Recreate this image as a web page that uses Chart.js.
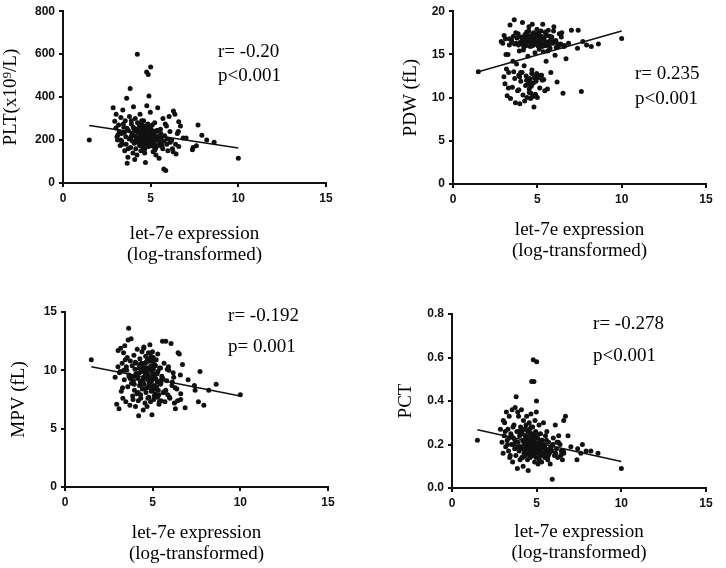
<!DOCTYPE html>
<html>
<head>
<meta charset="utf-8">
<script src="https://cdn.jsdelivr.net/npm/chart.js@4/dist/chart.umd.min.js"></script>
<style>
  body { margin: 0; background: #fff; }
  .panel { position: absolute; }
</style>
</head>
<body>
<canvas id="plt" class="panel" width="363" height="284" style="left:0;top:0"></canvas>
<canvas id="pdw" class="panel" width="363" height="284" style="left:363px;top:0"></canvas>
<canvas id="mpv" class="panel" width="363" height="284" style="left:0;top:284px"></canvas>
<canvas id="pct" class="panel" width="363" height="284" style="left:363px;top:284px"></canvas>
<script>
// let-7e expression (log-transformed), shared x for every panel
const expr = [
  1.5, 10.0, 8.62, 8.2, 7.92, 7.7, 7.61, 7.42, 7.38, 7.02,
  2.86, 2.95, 3.02, 3.08, 3.11, 3.17, 3.21, 3.26, 3.3, 3.34,
  3.38, 3.41, 3.47, 3.52, 3.55, 3.58, 3.63, 3.66, 3.7, 3.73,
  3.77, 3.79, 3.83, 3.86, 3.9, 3.93, 3.96, 3.99, 4.02, 4.05,
  4.07, 4.1, 4.12, 4.15, 4.18, 4.2, 4.22, 4.25, 4.27, 4.3,
  4.32, 4.34, 4.37, 4.39, 4.41, 4.44, 4.46, 4.48, 4.5, 4.52,
  4.54, 4.56, 4.58, 4.6, 4.62, 4.64, 4.66, 4.68, 4.7, 4.72,
  4.74, 4.76, 4.78, 4.8, 4.82, 4.84, 4.86, 4.88, 4.9, 4.92,
  4.94, 4.96, 4.98, 5.0, 5.03, 5.06, 5.08, 5.11, 5.14, 5.17,
  5.2, 5.23, 5.26, 5.29, 5.32, 5.36, 5.4, 5.44, 5.48, 5.52,
  5.56, 5.6, 5.65, 5.7, 5.75, 5.8, 5.86, 5.92, 5.98, 6.05,
  6.1, 6.17, 6.24, 6.3, 6.38, 6.45, 6.52, 6.6, 6.7, 6.85,
  3.03, 3.14, 3.28, 3.44, 3.6, 3.72, 3.88, 4.01, 4.09, 4.17,
  4.24, 4.31, 4.36, 4.43, 4.49, 4.55, 4.61, 4.67, 4.73, 4.79,
  4.85, 4.91, 4.97, 5.02, 5.09, 5.16, 5.22, 5.3, 5.38, 5.47,
  5.58, 5.69, 5.83, 5.96, 6.12, 6.28, 6.42, 6.58, 3.5, 3.9,
  4.1, 4.28, 4.4, 4.52, 4.63, 4.7, 4.77, 4.83, 4.93, 5.04,
  5.12, 5.25, 5.35, 5.5, 5.62, 5.9, 6.2, 6.6, 4.45, 4.65,
  4.58, 4.75, 4.87, 4.99, 5.07, 5.18, 5.28, 4.35, 4.55, 4.81,
  3.35, 3.65, 3.95, 4.15, 4.42, 4.62, 4.95, 5.15, 5.45, 5.75
];

const pltValues = [
  200, 115, 190, 200, 222, 270, 173, 165, 155, 210,
  350, 287, 256, 215, 200, 270, 240, 175, 305, 230,
  180, 340, 260, 150, 290, 215, 395, 92, 120, 245,
  205, 310, 440, 165, 275, 230, 195, 140, 355, 250,
  185, 220, 300, 160, 245, 210, 130, 280, 190, 235,
  205, 260, 175, 320, 225, 150, 195, 240, 270, 185,
  215, 250, 165, 290, 205, 230, 140, 265, 95, 200,
  245, 180, 360, 220, 195, 275, 505, 170, 405, 230,
  210, 190, 330, 540, 250, 175, 215, 200, 145, 235,
  190, 280, 205, 165, 240, 200, 350, 215, 115, 185,
  250, 205, 170, 300, 65, 220, 58, 180, 150, 310,
  240, 195, 160, 335, 320, 135, 230, 285, 265, 210,
  320, 225, 200, 275, 180, 160, 215, 260, 110, 200,
  600, 240, 215, 180, 290, 205, 225, 160, 255, 190,
  215, 180, 240, 195, 270, 170, 220, 130, 245, 200,
  230, 160, 275, 205, 190, 145, 180, 240, 235, 290,
  250, 205, 230, 175, 245, 210, 517, 195, 260, 180,
  205, 155, 245, 220, 180, 265, 200, 170, 235, 215,
  200, 260, 185, 215, 190, 240, 175, 270, 225, 205,
  195, 255, 220, 250, 200, 185, 230, 210, 175, 195
];

const pdwValues = [
  13.0, 16.85, 16.2, 15.9, 16.1, 16.5, 10.7, 17.8, 15.7, 17.8,
  16.5, 16.3, 12.4, 11.6, 16.8, 13.3, 10.2, 15.0, 12.9, 16.1,
  18.4, 9.9, 16.6, 11.2, 14.2, 17.1, 19.0, 12.2, 9.4, 16.3,
  13.9, 16.9, 10.8, 17.4, 12.6, 15.4, 9.3, 16.4, 11.9, 17.0,
  16.2, 12.9, 18.7, 10.3, 16.7, 15.8, 13.7, 9.6, 17.3, 11.4,
  16.0, 12.5, 17.6, 10.0, 16.4, 14.8, 11.8, 16.9, 18.2, 10.6,
  16.6, 12.1, 15.9, 9.9, 17.2, 11.3, 16.3, 13.2, 18.5, 10.1,
  16.1, 11.7, 17.5, 8.9, 16.8, 12.4, 15.2, 10.4, 17.0, 11.9,
  16.5, 12.8, 17.9, 10.0, 16.0, 12.3, 17.3, 15.6, 11.1, 16.7,
  12.6, 17.1, 16.2, 12.0, 18.5, 15.3, 16.8, 10.8, 17.6, 14.2,
  16.4, 11.0, 17.8, 16.0, 15.7, 12.9, 17.0, 16.3, 18.2, 14.9,
  16.6, 11.8, 15.9, 17.4, 16.2, 17.5, 10.5, 16.0, 14.5, 16.3,
  17.2, 15.0, 11.1, 16.7, 13.0, 17.5, 16.1, 12.9, 16.9, 15.5,
  16.3, 17.0, 12.0, 16.6, 17.7, 11.5, 16.2, 12.8, 17.1, 16.5,
  16.9, 10.2, 16.4, 17.3, 12.5, 16.1, 17.7, 16.8, 12.1, 16.0,
  17.2, 16.5, 16.8, 17.7, 15.8, 16.1, 17.0, 15.9, 16.4, 10.9,
  16.9, 16.3, 17.2, 11.0, 16.6, 16.0, 17.4, 12.3, 16.2, 17.0,
  16.7, 12.6, 16.1, 17.3, 15.4, 16.6, 16.2, 16.0, 16.8, 11.6,
  17.0, 16.4, 10.3, 16.9, 17.5, 16.2, 15.9, 16.7, 12.2, 16.3,
  16.8, 16.2, 12.4, 16.6, 16.9, 10.5, 17.2, 16.5, 16.4, 17.1
];

const mpvValues = [
  10.9, 7.9, 8.8, 8.3, 7.0, 9.9, 7.3, 8.3, 8.7, 9.2,
  9.4, 7.1, 10.3, 6.7, 9.8, 11.9, 8.2, 10.6, 7.6, 11.5,
  9.2, 12.1, 7.3, 10.0, 11.1, 8.6, 13.6, 9.6, 7.0, 10.8,
  12.7, 8.9, 10.4, 7.8, 9.5, 11.3, 8.3, 10.1, 6.9, 9.7,
  10.6, 8.0, 11.8, 9.3, 7.4, 6.1, 10.2, 8.7, 11.0, 9.0,
  7.6, 10.5, 9.1, 11.6, 8.4, 10.0, 6.6, 9.4, 12.0, 8.8,
  10.3, 7.2, 9.8, 11.2, 8.1, 10.7, 9.5, 6.9, 10.9, 8.5,
  9.6, 11.5, 7.7, 10.1, 8.9, 12.2, 9.2, 7.3, 10.4, 8.2,
  9.9, 6.2, 10.8, 8.6, 11.1, 7.5, 9.3, 10.5, 8.0, 9.7,
  10.9, 7.8, 9.0, 11.4, 8.3, 7.1, 10.2, 8.8, 7.4, 9.5,
  12.5, 8.1, 10.6, 7.3, 12.5, 9.1, 7.9, 10.0, 7.6, 12.3,
  8.7, 9.8, 7.2, 6.7, 8.4, 11.5, 11.4, 7.5, 10.5, 6.8,
  11.7, 9.9, 8.5, 10.9, 12.6, 9.3, 7.5, 10.7, 9.6, 8.1,
  9.8, 7.9, 10.6, 9.1, 11.9, 8.4, 10.2, 9.4, 7.6, 10.8,
  9.0, 11.2, 8.3, 9.6, 7.8, 10.4, 8.6, 9.9, 7.3, 8.9,
  9.3, 8.2, 10.1, 7.7, 9.0, 8.5, 7.4, 9.6, 10.3, 9.1,
  9.5, 10.4, 8.8, 9.9, 10.7, 9.2, 8.6, 11.0, 9.4, 10.1,
  8.4, 9.7, 7.9, 9.2, 8.1, 10.3, 9.4, 8.0, 10.5, 9.8,
  9.6, 10.2, 9.0, 11.6, 8.7, 9.3, 7.7, 9.9, 10.6, 9.4,
  10.0, 9.5, 8.8, 9.7, 10.3, 9.9, 9.1, 8.6, 10.2, 8.3
];

const pctValues = [
  0.22, 0.09, 0.16, 0.17, 0.17, 0.20, 0.16, 0.18, 0.13, 0.19,
  0.27, 0.21, 0.16, 0.24, 0.30, 0.19, 0.35, 0.22, 0.27, 0.17,
  0.33, 0.14, 0.25, 0.20, 0.36, 0.12, 0.23, 0.29, 0.18, 0.37,
  0.15, 0.42, 0.26, 0.09, 0.21, 0.33, 0.17, 0.24, 0.13, 0.28,
  0.19, 0.36, 0.14, 0.25, 0.22, 0.10, 0.31, 0.16, 0.27, 0.20,
  0.24, 0.15, 0.29, 0.18, 0.33, 0.21, 0.13, 0.26, 0.08, 0.19,
  0.23, 0.30, 0.16, 0.27, 0.14, 0.21, 0.34, 0.18, 0.49, 0.25,
  0.17, 0.28, 0.22, 0.59, 0.15, 0.49, 0.24, 0.12, 0.31, 0.20,
  0.26, 0.14, 0.35, 0.58, 0.19, 0.23, 0.11, 0.17, 0.29, 0.21,
  0.15, 0.25, 0.18, 0.12, 0.22, 0.16, 0.30, 0.20, 0.14, 0.24,
  0.17, 0.26, 0.13, 0.21, 0.16, 0.11, 0.19, 0.04, 0.23, 0.15,
  0.29, 0.18, 0.14, 0.24, 0.20, 0.17, 0.13, 0.31, 0.33, 0.24,
  0.31, 0.26, 0.20, 0.15, 0.28, 0.22, 0.35, 0.19, 0.26, 0.14,
  0.21, 0.18, 0.27, 0.16, 0.23, 0.19, 0.15, 0.28, 0.20, 0.17,
  0.22, 0.18, 0.16, 0.25, 0.20, 0.13, 0.18, 0.22, 0.16, 0.19,
  0.22, 0.15, 0.18, 0.20, 0.16, 0.21, 0.15, 0.17, 0.24, 0.19,
  0.26, 0.22, 0.17, 0.20, 0.25, 0.18, 0.24, 0.16, 0.21, 0.19,
  0.17, 0.20, 0.15, 0.18, 0.14, 0.17, 0.21, 0.16, 0.23, 0.20,
  0.22, 0.19, 0.25, 0.40, 0.17, 0.21, 0.16, 0.24, 0.18, 0.23,
  0.23, 0.20, 0.26, 0.18, 0.21, 0.17, 0.25, 0.19, 0.16, 0.18
];

// regression line ends
const fitX = [1.5, 10];
const pltFit = [268, 163];
const pdwFit = [13.0, 17.7];
const mpvFit = [10.3, 7.8];
const pctFit = [0.268, 0.122];

const xTicks = [0, 5, 10, 15];
const xTitle = ["let-7e expression", "(log-transformed)"];

const serif = '"Liberation Serif", "Times New Roman", serif';
const sans = '"Liberation Sans", Arial, sans-serif';

// draws the r / p text in data coordinates
const notes = {
  id: "notes",
  afterDraw(chart, args, opts) {
    const ctx = chart.ctx;
    const x = chart.scales.x, y = chart.scales.y;
    ctx.save();
    ctx.font = "19px " + serif;
    ctx.fillStyle = "#000";
    ctx.textAlign = "left";
    ctx.textBaseline = "middle";
    opts.items.forEach((n) => {
      ctx.fillText(n.text, x.getPixelForValue(n.x), y.getPixelForValue(n.y));
    });
    ctx.restore();
  },
};

function makePanel(id, values, fit, p) {
  let pts = expr.map((v, i) => ({ x: v, y: values[i] }));
  let line = fitX.map((v, i) => ({ x: v, y: fit[i] }));
  return new Chart(document.getElementById(id), {
    type: "scatter",
    data: {
      datasets: [
        { data: line, showLine: true, borderColor: "#111", borderWidth: 1.6, pointRadius: 0 },
        { data: pts, backgroundColor: "#111", borderWidth: 0, pointRadius: 2.5 },
      ],
    },
    options: {
      responsive: false,
      animation: false,
      devicePixelRatio: 1,
      layout: { padding: { left: 0, top: p.top, right: 363 - p.right, bottom: 0 } },
      plugins: {
        legend: { display: false },
        tooltip: { enabled: false },
        notes: { items: p.notes },
      },
      scales: {
        x: {
          type: "linear",
          min: 0,
          max: 15,
          afterBuildTicks: (s) => { s.ticks = xTicks.map((v) => ({ value: v })); },
          afterFit: (s) => { s.height = 284 - p.bottom; },
          border: { display: true, color: "#111", width: 2 },
          grid: { drawOnChartArea: false, drawTicks: true, tickLength: 4, color: "#111", lineWidth: 2 },
          ticks: { color: "#111", padding: 4, maxRotation: 0, font: { family: sans, size: 12, weight: "bold" } },
          title: {
            display: true,
            text: xTitle,
            color: "#000",
            font: { family: serif, size: 19, lineHeight: 1.1 },
            padding: { top: 0, bottom: p.xTitlePad },
          },
        },
        y: {
          type: "linear",
          min: 0,
          max: p.yTicks[p.yTicks.length - 1],
          afterBuildTicks: (s) => { s.ticks = p.yTicks.map((v) => ({ value: v })); },
          afterFit: (s) => { s.width = p.left; },
          border: { display: true, color: "#111", width: 2 },
          grid: { drawOnChartArea: false, drawTicks: true, tickLength: 4, color: "#111", lineWidth: 2 },
          ticks: {
            color: "#111",
            padding: 4,
            font: { family: sans, size: 12, weight: "bold" },
            callback: p.fmt || ((v) => v),
          },
          title: {
            display: true,
            text: p.yTitle,
            color: "#000",
            font: { family: serif, size: 19, lineHeight: 1.1 },
            padding: { top: p.yTitlePad, bottom: 0 },
          },
        },
      },
    },
    plugins: [notes],
  });
}

makePanel("plt", pltValues, pltFit, {
  left: 63, right: 326, top: 8, bottom: 183,
  yTicks: [0, 200, 400, 600, 800], yTitle: "PLT(x10⁹/L)",
  yTitlePad: 1, xTitlePad: 18.5,
  notes: [{ text: "r= -0.20", x: 8.84, y: 608 }, { text: "p<0.001", x: 8.84, y: 498 }],
});

makePanel("pdw", pdwValues, pdwFit, {
  left: 90, right: 343, top: 8, bottom: 184,
  yTicks: [0, 5, 10, 15, 20], yTitle: "PDW (fL)",
  yTitlePad: 37.5, xTitlePad: 22.5,
  notes: [{ text: "r= 0.235", x: 10.79, y: 12.7 }, { text: "p<0.001", x: 10.79, y: 9.8 }],
});

makePanel("mpv", mpvValues, mpvFit, {
  left: 65, right: 328, top: 28, bottom: 203,
  yTicks: [0, 5, 10, 15], yTitle: "MPV (fL)",
  yTitlePad: 8.5, xTitlePad: 3.5,
  notes: [{ text: "r= -0.192", x: 9.3, y: 14.65 }, { text: "p= 0.001", x: 9.3, y: 12.0 }],
});

makePanel("pct", pctValues, pctFit, {
  left: 89, right: 343, top: 30, bottom: 204,
  yTicks: [0, 0.2, 0.4, 0.6, 0.8], yTitle: "PCT",
  yTitlePad: 33, xTitlePad: 4.5,
  fmt: (v) => v.toFixed(1),
  notes: [{ text: "r= -0.278", x: 8.33, y: 0.754 }, { text: "p<0.001", x: 8.33, y: 0.607 }],
});
</script>
</body>
</html>
